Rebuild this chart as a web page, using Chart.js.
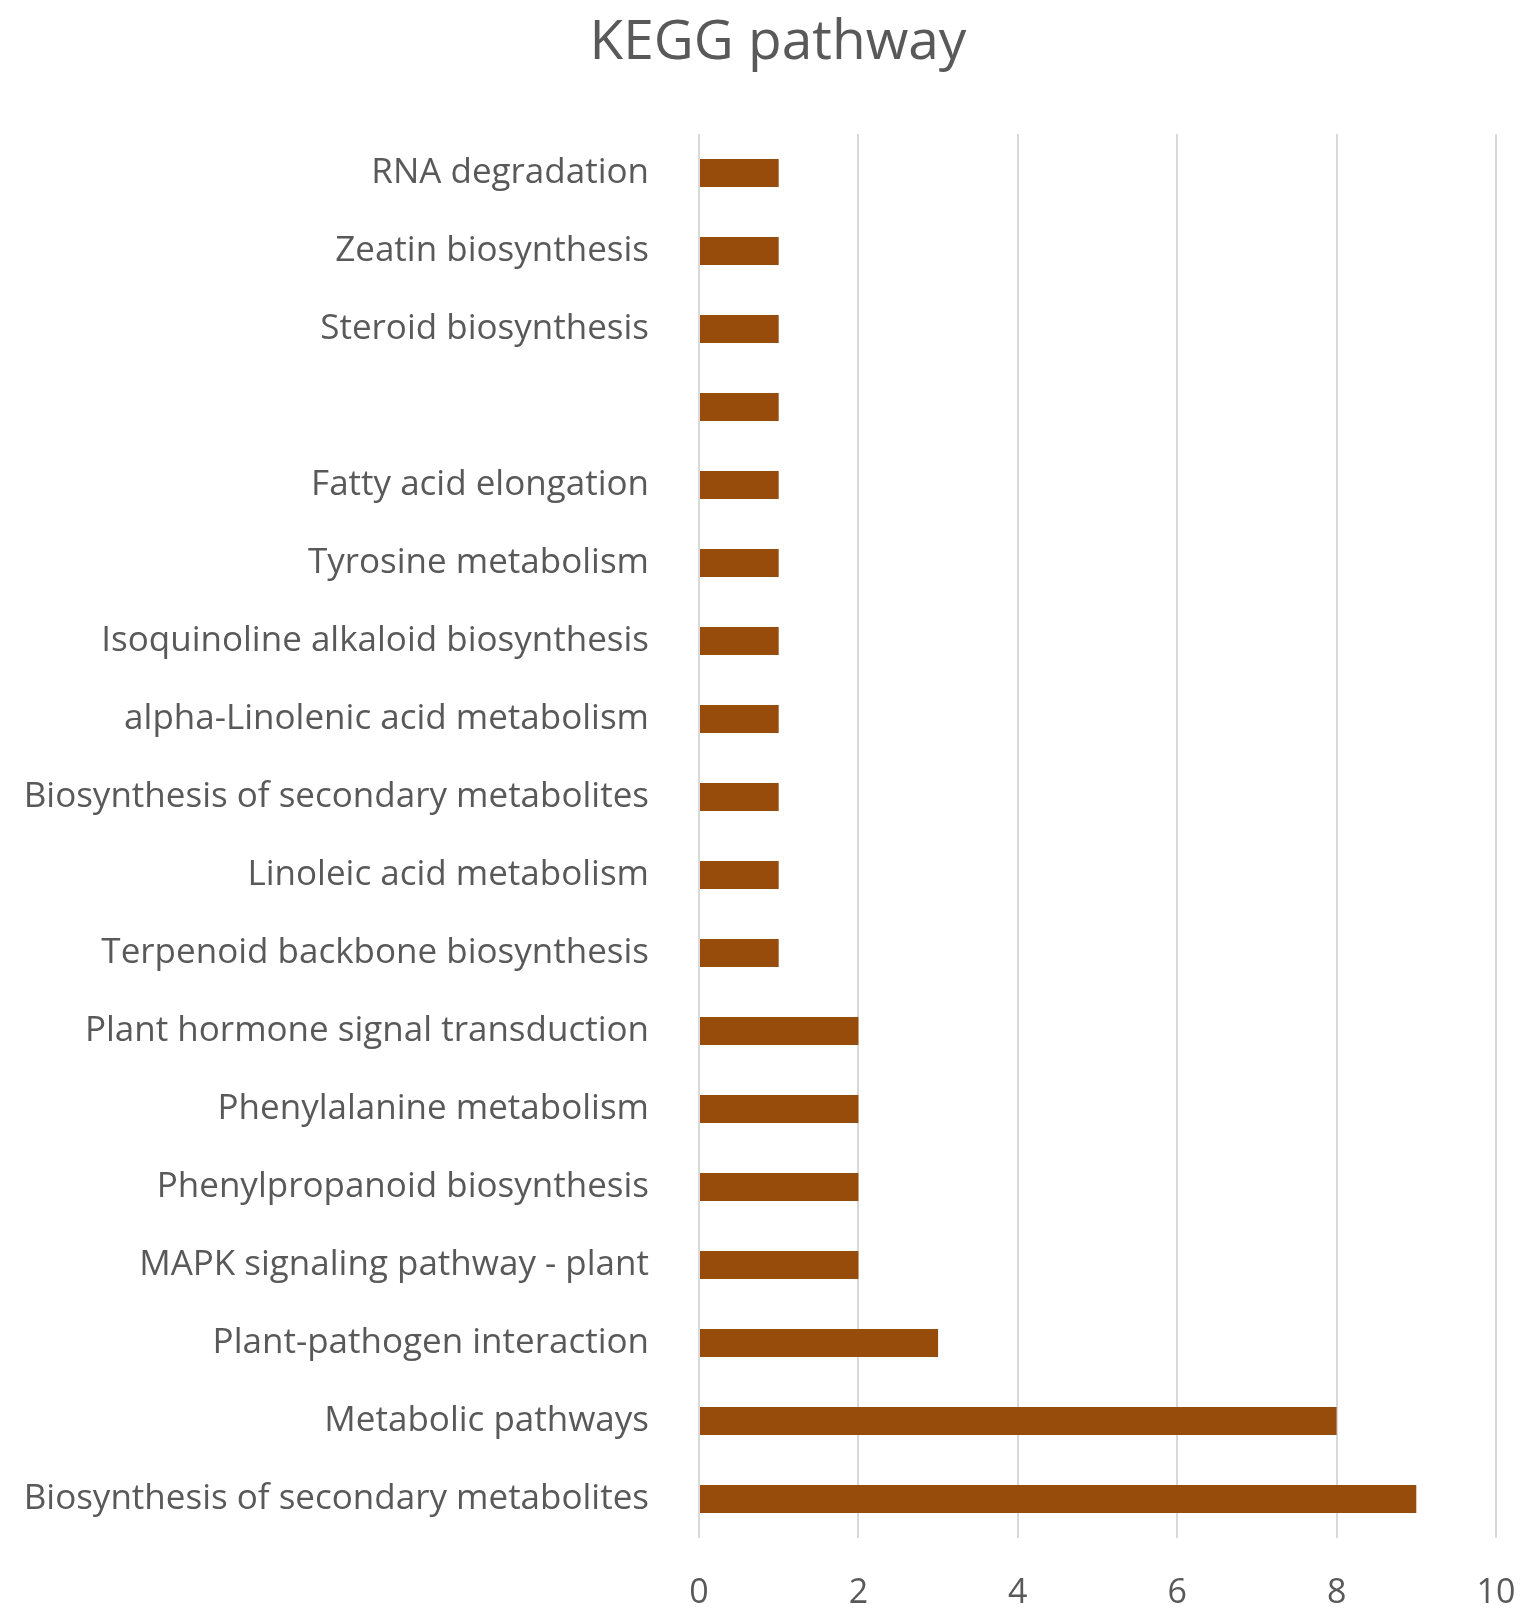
<!DOCTYPE html>
<html>
<head>
<meta charset="utf-8">
<script src="https://cdn.jsdelivr.net/npm/chart.js@4"></script>
<style>
  html, body { margin: 0; padding: 0; background: #ffffff; overflow: hidden; }
  #wrap { width: 1534px; height: 1621px; position: relative; }
</style>
</head>
<body>
<div id="wrap"><canvas id="c"></canvas></div>
<script>
const titleText = "KEGG pathway";
const categories = [
  "RNA degradation",
  "Zeatin biosynthesis",
  "Steroid biosynthesis",
  "",
  "Fatty acid elongation",
  "Tyrosine metabolism",
  "Isoquinoline alkaloid biosynthesis",
  "alpha-Linolenic acid metabolism",
  "Biosynthesis of secondary metabolites",
  "Linoleic acid metabolism",
  "Terpenoid backbone biosynthesis",
  "Plant hormone signal transduction",
  "Phenylalanine metabolism",
  "Phenylpropanoid biosynthesis",
  "MAPK signaling pathway - plant",
  "Plant-pathogen interaction",
  "Metabolic pathways",
  "Biosynthesis of secondary metabolites"
];
const values = [1, 1, 1, 1, 1, 1, 1, 1, 1, 1, 1, 2, 2, 2, 2, 3, 8, 9];
const xMin = 0, xMax = 10, xStep = 2;

const FONT = "'Open Sans', 'Noto Sans', sans-serif";
const TEXT = "#595959";
const PAD_L = 10, PAD_R = 38;

// shift the title block slightly right, as in the reference
const titleShift = {
  id: 'titleShift',
  afterLayout(chart) {
    const t = chart.titleBlock;
    if (t) { t.left += 50; }
  }
};

new Chart(document.getElementById('c'), {
  type: 'bar',
  data: {
    labels: categories,
    datasets: [{
      data: values,
      backgroundColor: '#974c0b',
      borderWidth: 0,
      barPercentage: 0.36,
      categoryPercentage: 1.0
    }]
  },
  plugins: [titleShift],
  options: {
    indexAxis: 'y',
    responsive: true,
    maintainAspectRatio: false,
    animation: false,
    layout: { padding: { left: PAD_L, right: PAD_R, top: 0, bottom: 0 } },
    plugins: {
      legend: { display: false },
      tooltip: { enabled: false },
      title: {
        display: true,
        text: titleText,
        color: TEXT,
        font: { family: FONT, size: 55, weight: 'normal' },
        padding: { top: 10, bottom: 58 }
      }
    },
    scales: {
      x: {
        min: xMin, max: xMax,
        ticks: { stepSize: xStep, color: TEXT, font: { family: FONT, size: 34 }, padding: 35 },
        grid: { color: '#d9d9d9', lineWidth: 2, drawTicks: false },
        border: { display: false },
        afterFit: (s) => { s.height = 83; s.paddingLeft = 0; s.paddingRight = 0; }
      },
      y: {
        ticks: { color: TEXT, font: { family: FONT, size: 35 }, padding: 42, autoSkip: false },
        grid: { display: false },
        border: { display: false },
        afterFit: (s) => { s.width = 699 - PAD_L; }
      }
    }
  }
});
</script>
</body>
</html>
